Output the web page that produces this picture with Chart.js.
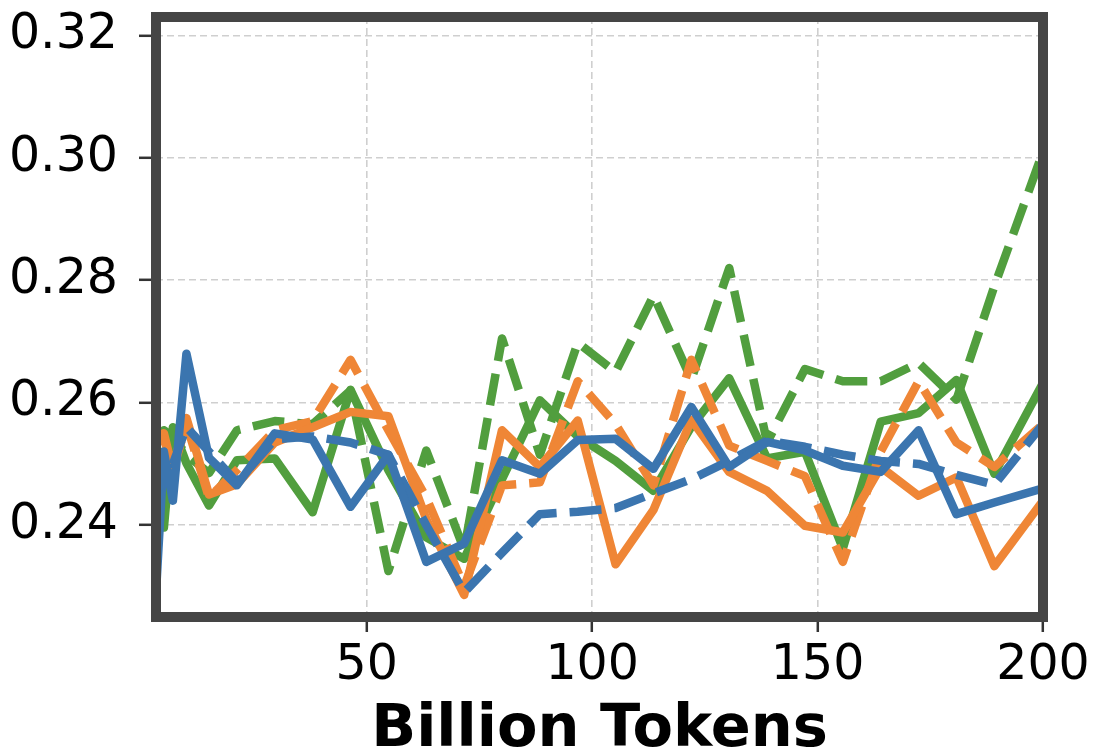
<!DOCTYPE html>
<html>
<head>
<meta charset="utf-8">
<script src="https://cdn.jsdelivr.net/npm/chart.js@4.4.1/dist/chart.umd.min.js"></script>
<style>
  html, body { margin: 0; padding: 0; background: #ffffff; }
  canvas { display: block; }
</style>
</head>
<body>
<canvas id="chart" width="1095" height="754"></canvas>
<script>
// Training progress, in billions of tokens
const tokens = [3.25, 5, 7, 10, 15, 21.2, 29.6, 38, 46.4, 54.8, 63.2, 71.6, 80, 88.4, 96.8,
  105.2, 113.6, 122, 130.4, 138.8, 147.2, 155.6, 164, 172.4, 180.8, 189.2, 200];

const blueSolid = [0.229, 0.252, 0.244, 0.268, 0.251, 0.2465, 0.255, 0.254, 0.243, 0.2515,
  0.234, 0.237, 0.2506, 0.2484, 0.2539, 0.2541, 0.2492, 0.2593, 0.2495, 0.2536, 0.2522,
  0.2497, 0.2487, 0.2555, 0.2418, 0.2437, 0.246];

const blueDashed = [0.247, 0.252, 0.250, 0.256, 0.252, 0.247, 0.254, 0.2545, 0.2535, 0.2515,
  0.240, 0.229, 0.2355, 0.2418, 0.2422, 0.2428, 0.2452, 0.2475, 0.2505, 0.2538, 0.2528,
  0.2515, 0.2505, 0.2500, 0.2482, 0.2466, 0.2565];

const orangeSolid = [0.2535, 0.254, 0.2495, 0.2575, 0.245, 0.2467, 0.2535, 0.256, 0.2585, 0.2578,
  0.241, 0.2286, 0.2555, 0.2495, 0.2571, 0.2336, 0.2425, 0.2572, 0.2487, 0.2456, 0.2399,
  0.2388, 0.2495, 0.2448, 0.2478, 0.2333, 0.244];

const orangeDashed = [0.2545, 0.255, 0.249, 0.2565, 0.2445, 0.249, 0.2555, 0.257, 0.267, 0.2555,
  0.2445, 0.2300, 0.2465, 0.247, 0.2635, 0.2565, 0.2465, 0.267, 0.2530, 0.2505, 0.2480,
  0.2340, 0.2520, 0.2635, 0.2535, 0.2495, 0.2565];

const greenSolid = [0.2525, 0.2396, 0.256, 0.2501, 0.2432, 0.2506, 0.2509, 0.2421, 0.2621, 0.249,
  0.238, 0.2345, 0.2475, 0.2604, 0.2545, 0.2505, 0.2456, 0.2561, 0.2640, 0.2509, 0.2520,
  0.2362, 0.2569, 0.2583, 0.2637, 0.2484, 0.2632];

const greenDashed = [0.2475, 0.2555, 0.2545, 0.2515, 0.2485, 0.2555, 0.257, 0.2565, 0.262, 0.2325,
  0.2522, 0.236, 0.2705, 0.2515, 0.2698, 0.2650, 0.2775, 0.2638, 0.2820, 0.2535, 0.2655,
  0.2635, 0.2635, 0.2665, 0.2605, 0.279, 0.301];

const xTicks = [50, 100, 150, 200];
const yTicks = [0.24, 0.26, 0.28, 0.30, 0.32];

const BLUE = '#3b75af';
const ORANGE = '#ef8636';
const GREEN = '#519e3e';
const DASH = [32, 13];

const toPoints = vals => tokens.map((x, i) => ({ x: x, y: vals[i] }));

function series(vals, color, dashed) {
  return {
    data: toPoints(vals),
    borderColor: color,
    backgroundColor: color,
    borderWidth: 8.5,
    borderDash: dashed ? DASH : [],
    borderCapStyle: 'butt',
    borderJoinStyle: 'round',
    pointRadius: 0,
    pointHoverRadius: 0,
    tension: 0,
    fill: false
  };
}

// Thick dark frame around the plotting area
const frame = {
  id: 'frame',
  afterDatasetsDraw(chart) {
    const { ctx, chartArea: a } = chart;
    ctx.save();
    ctx.strokeStyle = '#454545';
    ctx.lineWidth = 10;
    ctx.lineJoin = 'miter';
    ctx.strokeRect(a.left, a.top, a.right - a.left, a.bottom - a.top);
    ctx.restore();
  }
};

const tickFont = { family: '"DejaVu Sans", sans-serif', size: 49 };

new Chart(document.getElementById('chart'), {
  type: 'line',
  data: {
    datasets: [
      series(blueSolid, BLUE, false),
      series(blueDashed, BLUE, true),
      series(orangeSolid, ORANGE, false),
      series(orangeDashed, ORANGE, true),
      series(greenSolid, GREEN, false),
      series(greenDashed, GREEN, true)
    ]
  },
  options: {
    responsive: false,
    animation: false,
    devicePixelRatio: 1,
    layout: { padding: { left: 0, right: 52, top: 17, bottom: 0 } },
    plugins: { legend: { display: false }, tooltip: { enabled: false } },
    scales: {
      x: {
        type: 'linear',
        min: 3.25,
        max: 200,
        afterBuildTicks: s => { s.ticks = xTicks.map(v => ({ value: v })); },
        afterFit: s => { s.height = 137; s.paddingLeft = 0; s.paddingRight = 0; },
        ticks: { font: tickFont, color: '#000', padding: 5, maxRotation: 0, callback: v => String(v) },
        grid: { color: '#cfcfcf', lineWidth: 1.6, drawTicks: true, tickLength: 15, tickColor: '#333', tickWidth: 2.5 },
        border: { display: false, dash: [7, 4] },
        title: {
          display: true,
          text: 'Billion Tokens',
          color: '#000',
          font: { family: '"DejaVu Sans", sans-serif', size: 59, weight: 'bold', lineHeight: 1 },
          padding: { top: 0, bottom: -6 }
        }
      },
      y: {
        type: 'linear',
        min: 0.225,
        max: 0.323,
        afterBuildTicks: s => { s.ticks = yTicks.map(v => ({ value: v })); },
        afterFit: s => { s.width = 156; s.paddingTop = 0; s.paddingBottom = 0; },
        ticks: { font: tickFont, color: '#000', padding: 21, callback: v => Number(v).toFixed(2) },
        grid: { color: '#cfcfcf', lineWidth: 1.6, drawTicks: true, tickLength: 17, tickColor: '#333', tickWidth: 2.5 },
        border: { display: false, dash: [7, 4] }
      }
    }
  },
  plugins: [frame]
});
</script>
</body>
</html>
